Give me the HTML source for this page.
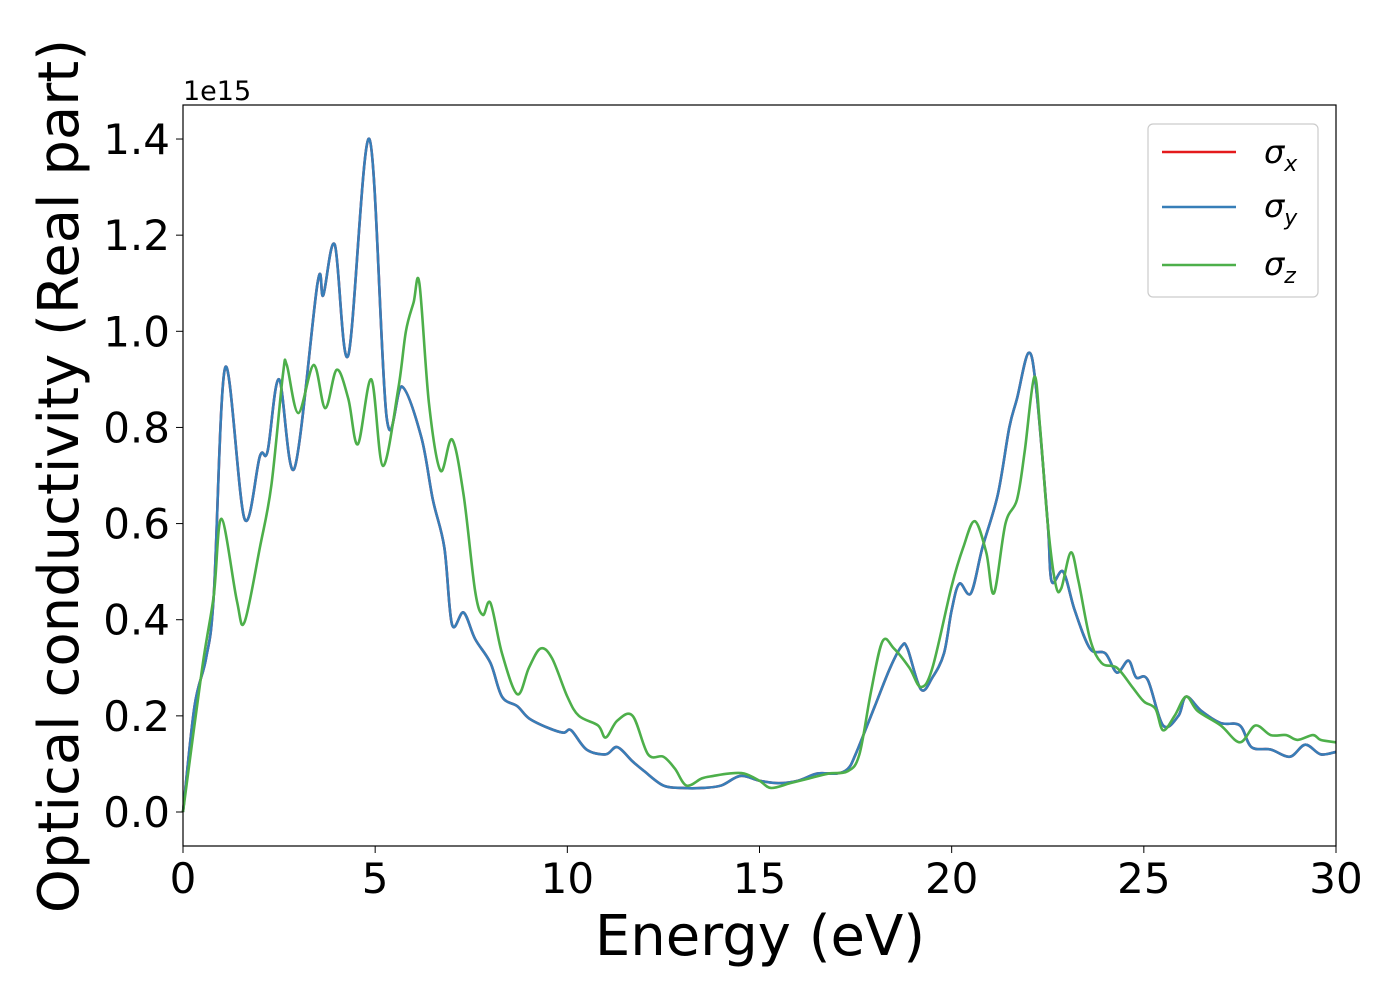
<!DOCTYPE html>
<html><head><meta charset="utf-8"><style>
body{margin:0;background:#fff}
svg text{font-family:"DejaVu Sans","Liberation Sans",sans-serif;fill:#000}
</style></head><body>
<svg id="chart" width="1400" height="1000" xmlns="http://www.w3.org/2000/svg">
<rect x="0" y="0" width="1400" height="1000" fill="#fff"/>
<g id="series"></g>
<rect x="183" y="105" width="1153" height="741" fill="none" stroke="#000" stroke-width="1.2"/>
<g id="xticks"></g>
<g id="yticks"></g>
<text x="183" y="100" font-size="27">1e15</text>
<text x="760" y="955" font-size="56" text-anchor="middle">Energy (eV)</text>
<text transform="translate(78,476) rotate(-90)" font-size="56" text-anchor="middle">Optical conductivity (Real part)</text>
<g>
<rect x="1148" y="124" width="170" height="173" rx="5" fill="#fff" fill-opacity="0.8" stroke="#ccc" stroke-width="1.2"/>
<line x1="1162" y1="152" x2="1236" y2="152" stroke="#e41a1c" stroke-width="2.5"/>
<text x="1264" y="163" font-size="32" font-style="italic">σ<tspan font-size="22" dy="8">x</tspan></text>
<line x1="1162" y1="207" x2="1236" y2="207" stroke="#377eb8" stroke-width="2.5"/>
<text x="1264" y="217" font-size="32" font-style="italic">σ<tspan font-size="22" dy="8">y</tspan></text>
<line x1="1162" y1="265" x2="1236" y2="265" stroke="#4daf4a" stroke-width="2.5"/>
<text x="1264" y="275" font-size="32" font-style="italic">σ<tspan font-size="22" dy="8">z</tspan></text>
</g>
</svg>
<script>
const xyEnergy=[0,0.3,0.6,0.8,1.1,1.6,2.0,2.2,2.5,2.9,3.5,3.65,3.95,4.3,4.85,5.3,5.7,6.2,6.5,6.8,7.0,7.3,7.6,8.0,8.3,8.7,9.0,9.5,9.9,10.1,10.5,11.0,11.3,11.7,12.0,12.5,13.0,13.5,14,14.5,15,15.5,16,16.5,17,17.3,17.5,18,18.4,18.7,18.85,19.2,19.5,19.8,20.0,20.2,20.5,20.8,21.2,21.5,21.7,22.0,22.2,22.5,22.6,22.9,23.2,23.6,24,24.3,24.6,24.8,25.1,25.5,25.9,26.1,26.5,27,27.5,27.8,28.3,28.8,29.2,29.6,30];
const sigmaX=[0,0.22,0.32,0.45,0.925,0.61,0.74,0.75,0.90,0.715,1.10,1.075,1.18,0.95,1.40,0.82,0.885,0.78,0.65,0.55,0.39,0.415,0.36,0.31,0.24,0.22,0.195,0.175,0.165,0.17,0.13,0.12,0.135,0.105,0.085,0.055,0.05,0.05,0.055,0.075,0.065,0.06,0.065,0.08,0.08,0.09,0.12,0.22,0.3,0.345,0.34,0.255,0.28,0.33,0.42,0.475,0.455,0.55,0.66,0.8,0.86,0.955,0.88,0.6,0.48,0.5,0.42,0.34,0.33,0.29,0.315,0.28,0.275,0.18,0.2,0.24,0.21,0.185,0.18,0.135,0.13,0.115,0.14,0.12,0.125];
const sigmaY=sigmaX.slice();
const zEnergy=[0,0.5,0.8,1.0,1.4,1.6,2.0,2.3,2.6,2.7,3.0,3.4,3.7,4.0,4.3,4.55,4.9,5.2,5.6,5.8,6.0,6.15,6.4,6.7,7.0,7.3,7.6,7.8,8.0,8.3,8.7,9.0,9.3,9.6,10.0,10.3,10.8,11.0,11.3,11.7,12.1,12.5,12.8,13.1,13.5,13.8,14.2,14.6,15.0,15.3,15.8,16.3,16.8,17.3,17.6,17.9,18.2,18.5,18.9,19.2,19.5,20.0,20.3,20.6,20.9,21.1,21.4,21.7,21.9,22.15,22.3,22.5,22.7,22.85,23.1,23.3,23.6,23.9,24.3,24.7,25.0,25.3,25.5,25.8,26.1,26.4,27,27.5,27.9,28.3,28.7,29.0,29.4,29.6,30];
const sigmaZ=[0,0.3,0.45,0.61,0.44,0.395,0.55,0.68,0.91,0.93,0.83,0.93,0.84,0.92,0.86,0.765,0.9,0.72,0.88,1.0,1.06,1.10,0.85,0.71,0.775,0.66,0.46,0.41,0.435,0.33,0.245,0.30,0.34,0.32,0.24,0.2,0.18,0.155,0.19,0.2,0.12,0.115,0.09,0.055,0.07,0.075,0.08,0.08,0.065,0.05,0.06,0.07,0.08,0.085,0.12,0.25,0.355,0.34,0.3,0.26,0.3,0.47,0.55,0.605,0.54,0.455,0.6,0.65,0.75,0.905,0.8,0.6,0.475,0.465,0.54,0.48,0.36,0.31,0.3,0.26,0.23,0.215,0.17,0.2,0.24,0.21,0.18,0.145,0.18,0.16,0.16,0.15,0.16,0.15,0.145];
const xTicks=[0,5,10,15,20,25,30];
const yTicks=[0,0.2,0.4,0.6,0.8,1.0,1.2,1.4];
const X0=183,X1=1336,XMIN=0,XMAX=30,YZERO=812,YPER=480.7;
const sx=v=>X0+(v-XMIN)/(XMAX-XMIN)*(X1-X0);
const sy=v=>YZERO-v*YPER;
const NS='http://www.w3.org/2000/svg';
function pathFor(xs,ys){
  const p=xs.map((x,i)=>[sx(x),sy(ys[i])]);
  let d='M'+p[0][0]+','+p[0][1];
  for(let i=0;i<p.length-1;i++){
    const a=p[Math.max(0,i-1)],b=p[i],c=p[i+1],e=p[Math.min(p.length-1,i+2)];
    const c1=[b[0]+(c[0]-a[0])/6,b[1]+(c[1]-a[1])/6],c2=[c[0]-(e[0]-b[0])/6,c[1]-(e[1]-b[1])/6];
    d+=' C'+c1[0]+','+c1[1]+' '+c2[0]+','+c2[1]+' '+c[0]+','+c[1];
  }
  return d;
}
const g=document.getElementById('series');
[[xyEnergy,sigmaX,'#e41a1c','series-sigma-x'],[xyEnergy,sigmaY,'#377eb8','series-sigma-y'],[zEnergy,sigmaZ,'#4daf4a','series-sigma-z']].forEach(s=>{
  const p=document.createElementNS(NS,'path');
  p.setAttribute('d',pathFor(s[0],s[1]));
  p.setAttribute('fill','none');p.setAttribute('stroke',s[2]);p.setAttribute('stroke-width','2.6');
  
  
  g.appendChild(p);
});
const xt=document.getElementById('xticks');
xTicks.forEach(v=>{
  const l=document.createElementNS(NS,'line');
  l.setAttribute('x1',sx(v));l.setAttribute('x2',sx(v));l.setAttribute('y1',846);l.setAttribute('y2',853);l.setAttribute('stroke','#000');
  
  
  xt.appendChild(l);
  const t=document.createElementNS(NS,'text');
  t.setAttribute('x',sx(v));t.setAttribute('y',893);t.setAttribute('font-size','42');t.setAttribute('text-anchor','middle');
  t.textContent=String(v);
  
  
  xt.appendChild(t);
});
const yt=document.getElementById('yticks');
yTicks.forEach(v=>{
  const l=document.createElementNS(NS,'line');
  l.setAttribute('x1',176);l.setAttribute('x2',183);l.setAttribute('y1',sy(v));l.setAttribute('y2',sy(v));l.setAttribute('stroke','#000');
  
  
  yt.appendChild(l);
  const t=document.createElementNS(NS,'text');
  t.setAttribute('x',170);t.setAttribute('y',sy(v)+15);t.setAttribute('font-size','42');t.setAttribute('text-anchor','end');
  t.textContent=v.toFixed(1);
  
  
  yt.appendChild(t);
});
</script>
</body></html>
